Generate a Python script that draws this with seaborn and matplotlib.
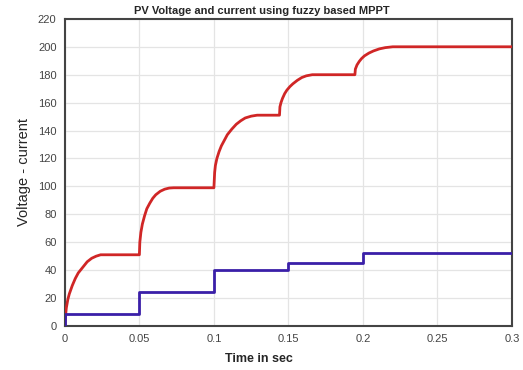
import matplotlib
matplotlib.use("Agg")
import matplotlib.pyplot as plt
import seaborn as sns
import pandas as pd

# Voltage curve
volt_time = [0.0, 0.0005, 0.001, 0.002, 0.003, 0.005, 0.007, 0.009, 0.012,
             0.015, 0.018, 0.021, 0.024, 0.027, 0.050,
             0.0503, 0.051, 0.052, 0.0535, 0.055, 0.057, 0.059, 0.061,
             0.064, 0.067, 0.070, 0.073, 0.100,
             0.1005, 0.101, 0.102, 0.1035, 0.105, 0.107, 0.109, 0.112,
             0.115, 0.118, 0.121, 0.125, 0.129, 0.144,
             0.1443, 0.145, 0.146, 0.1475, 0.149, 0.151, 0.153, 0.156,
             0.159, 0.162, 0.166, 0.1946,
             0.1949, 0.196, 0.1975, 0.199, 0.201, 0.204, 0.207, 0.211,
             0.215, 0.220, 0.300]
volt_vals = [0, 8, 13, 19, 23, 29, 34, 38, 42,
             46, 48.5, 50, 51, 51, 51,
             60, 67, 73, 79, 84, 88, 91.5, 94,
             96.5, 98, 98.8, 99, 99,
             110, 115, 120, 125, 129, 133, 137, 141,
             144.5, 147, 149, 150.3, 151, 151,
             157, 160, 163, 166.5, 169, 171.5, 173.5, 176,
             178, 179.2, 180, 180,
             184, 187, 189.5, 191.5, 193.5, 195.5, 197, 198.5,
             199.4, 200, 200]

# Current steps
curr_time = [0.0, 0.0, 0.05, 0.10, 0.15, 0.20, 0.30]
curr_vals = [0, 8.5, 24, 40, 45, 52, 52]

x_ticks = [0, 0.05, 0.1, 0.15, 0.2, 0.25, 0.3]
x_labels = ["0", "0.05", "0.1", "0.15", "0.2", "0.25", "0.3"]
y_ticks = list(range(0, 221, 20))

sns.set_style("white")
plt.rcParams['font.family'] = ['Liberation Sans', 'DejaVu Sans']

fig = plt.figure(figsize=(5.23, 3.70), dpi=100)
ax = fig.add_axes([0.124, 0.119, 0.855, 0.83])

dv = pd.DataFrame({"t": volt_time, "v": volt_vals})
dc = pd.DataFrame({"t": curr_time, "v": curr_vals})

sns.lineplot(data=dv, x="t", y="v", ax=ax, estimator=None, sort=False,
             color="#d02626", linewidth=2.0, zorder=3)
sns.lineplot(data=dc, x="t", y="v", ax=ax, estimator=None, sort=False,
             color="#3a1fa8", linewidth=2.0, drawstyle="steps-post", zorder=3)

ax.set_xlim(0, 0.3)
ax.set_ylim(0, 220)
ax.set_xticks(x_ticks)
ax.set_xticklabels(x_labels)
ax.set_yticks(y_ticks)
ax.grid(True, color="#e4e4e4", linewidth=0.9)
ax.tick_params(axis="both", length=0, labelsize=8, colors="#444444", pad=6)
for s in ax.spines.values():
    s.set_color("#444444")
    s.set_linewidth(1.5)

fig.suptitle("PV Voltage and current using fuzzy based MPPT", x=0.5, y=0.985,
             fontsize=8, fontweight="bold")
ax.set_xlabel("")
ax.set_ylabel("Voltage - current", fontsize=10.5, labelpad=5)
fig.text(0.495, 0.03, "Time in sec", ha="center", va="center",
         fontsize=9, fontweight="bold")

fig.savefig("out.png", dpi=100)
